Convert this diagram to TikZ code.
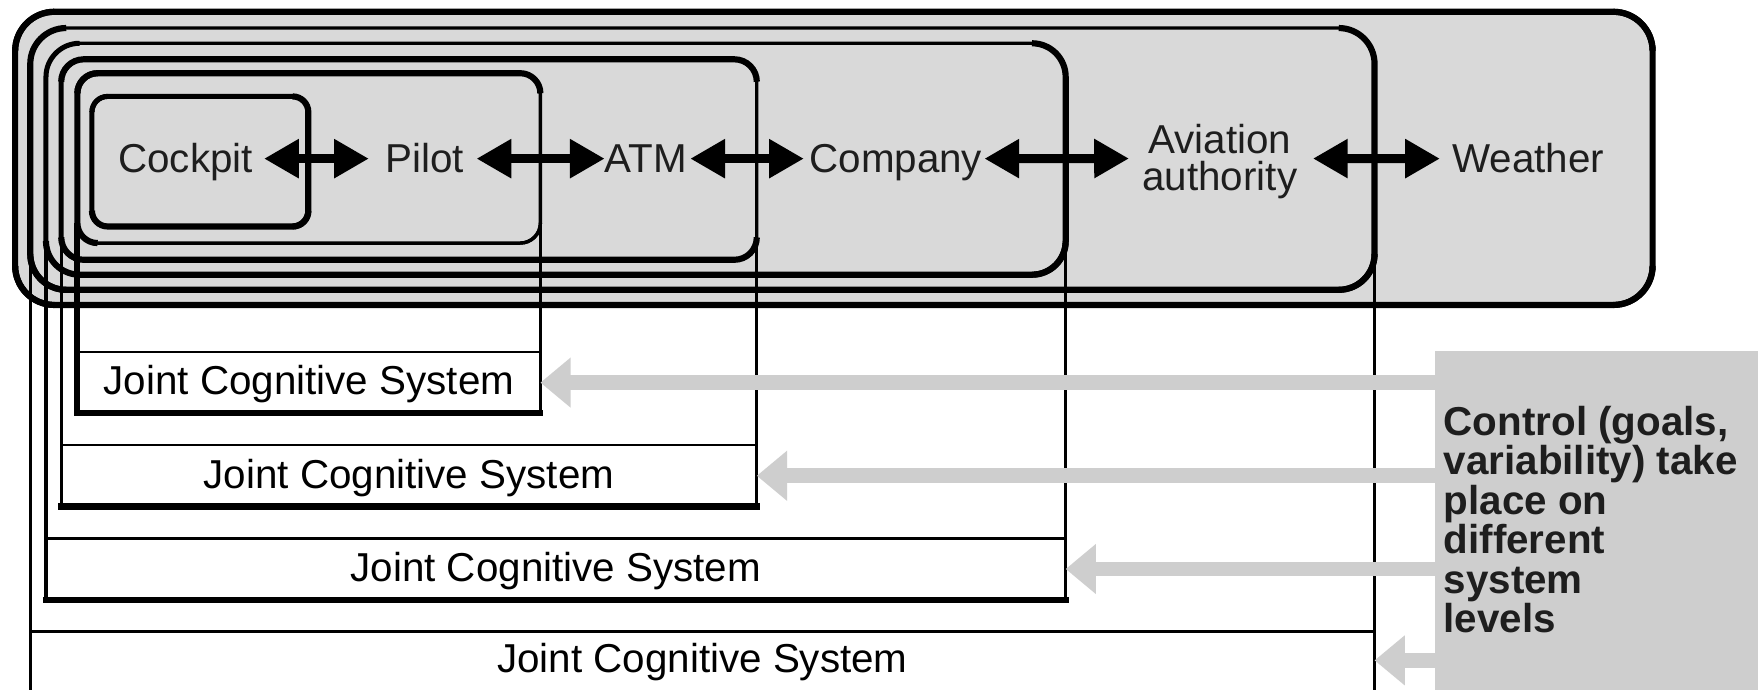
\documentclass[tikz,border=0pt]{standalone}
\usepackage{fontspec}
\setmainfont{Liberation Sans}
\usetikzlibrary{arrows.meta}

\definecolor{levelfill}{RGB}{217,217,217}
\definecolor{ctrlgray}{RGB}{206,206,206}
\definecolor{ink}{RGB}{30,30,30}

\tikzset{
  agent/.style={font=\fontsize{36}{33}\selectfont, text=ink, inner sep=0pt, outer sep=0pt},
  biarrow/.style={line width=8pt,
    {Triangle[length=31pt,width=33pt]}-{Triangle[length=31pt,width=33pt]}},
  jcsrow/.style={inner sep=0pt, outer sep=0pt, text=black,
    font=\fontsize{36}{38}\selectfont, text height=26pt, text depth=4pt},
  jcsside/.style={line width=2.8pt},
  jcsrule/.style={line width=2.4pt},
  jcsfloor/.style={line width=5.5pt, line cap=rect},
  notebox/.style={fill=ctrlgray, inner sep=0pt, outer sep=0pt, anchor=north west},
  notetext/.style={font=\bfseries\fontsize{36}{35.3}\selectfont, text=ink,
    align=left, inner sep=0pt, anchor=north west},
  ctrlarrow/.style={draw=ctrlgray, line width=13pt, -{Triangle[length=27pt,width=43pt]}},
}

% rounded level frame: corners (x1,y1) (x2,y2), radius, then widths of top, right, bottom, left side;
% each side is stroked together with its two corners
\newcommand{\levelframe}[9]{%
  \fill[levelfill, rounded corners=#5pt] (#1,#2) rectangle (#3,#4);
  \draw[line width=#6pt, rounded corners=#5pt] (#1,{#2+#5}) -- (#1,#2) -- (#3,#2) -- (#3,{#2+#5});
  \draw[line width=#7pt, rounded corners=#5pt] ({#3-#5},#2) -- (#3,#2) -- (#3,#4) -- ({#3-#5},#4);
  \draw[line width=#8pt, rounded corners=#5pt] (#1,{#4-#5}) -- (#1,#4) -- (#3,#4) -- (#3,{#4-#5});
  \draw[line width=#9pt, rounded corners=#5pt] ({#1+#5},#2) -- (#1,#2) -- (#1,#4) -- ({#1+#5},#4);
}

\begin{document}
\begin{tikzpicture}[x=1pt,y=-1pt]
\useasboundingbox (0,0) rectangle (1568,615);
\fill[white] (0,0) rectangle (1568,615);

% nested system levels, outermost first
\levelframe{13.5}{10.5}{1474}{272}{35}{5.5}{5.5}{5.5}{5.5}
\levelframe{27}{25}{1226}{258.5}{32}{3}{5.5}{5.5}{5.5}
\levelframe{41}{38.6}{950.5}{245}{30}{3}{5.5}{5.5}{4.5}
\levelframe{54.6}{52.9}{675}{231.7}{20}{5.5}{3}{5.5}{4.5}
\levelframe{69}{65.3}{482}{216.8}{18}{5.5}{3}{3}{5.5}
\levelframe{82}{86}{275}{202}{14}{4.5}{5.5}{5.5}{4.5}

% stems of the joint cognitive systems hanging below each level
% level 1 (cockpit + pilot)
\draw[jcsside, line width=5.5pt] (69,198.8) -- (69,368.5);
\draw[jcsside] (482,198.8) -- (482,368.5);
\draw[jcsrule] (69,314) -- (482,314);
\draw[jcsfloor] (69,368.5) -- (482,368.5);
% level 2 (+ ATM)
\draw[jcsside] (54.6,211.7) -- (54.6,451.7);
\draw[jcsside] (675,211.7) -- (675,451.7);
\draw[jcsrule] (54.6,397) -- (675,397);
\draw[jcsfloor] (54.6,451.7) -- (675,451.7);
% level 3 (+ company)
\draw[jcsside] (41,215) -- (41,535);
\draw[jcsside] (950.5,215) -- (950.5,535);
\draw[jcsrule] (41,480) -- (950.5,480);
\draw[jcsfloor] (41,535) -- (950.5,535);
% level 4 (+ aviation authority)
\draw[jcsside] (27,226.5) -- (27,620);
\draw[jcsside] (1226,226.5) -- (1226,620);
\draw[jcsrule] (27,563) -- (1226,563);

% row labels
\node[jcsrow, minimum width=413pt, minimum height=54.5pt] (jcs1) at (275.5,341.25) {Joint Cognitive System};
\node[jcsrow, minimum width=620.4pt, minimum height=54.7pt] (jcs2) at (364.8,424.35) {Joint Cognitive System};
\node[jcsrow, minimum width=909.5pt, minimum height=55pt] (jcs3) at (495.75,507.5) {Joint Cognitive System};
\node[jcsrow, minimum width=1199pt, minimum height=52pt] (jcs4) at (626.5,589) {Joint Cognitive System};

% actors
\node[agent, anchor=base] (cockpit) at (165.5,153.5) {Cockpit};
\node[agent, anchor=base] (pilot) at (379,153.5) {Pilot};
\node[agent, anchor=base] (atm) at (576,153.5) {ATM};
\node[agent, anchor=base] (company) at (799,153.5) {Company};
\node[agent, align=center] (authority) at (1088,144.4) {Aviation\\authority};
\node[agent, anchor=base] (weather) at (1363,153.5) {Weather};

% couplings between actors
\draw[biarrow] ([xshift=10pt,yshift=12pt]cockpit.base east) -- ([xshift=-15pt,yshift=12pt]pilot.base west);
\draw[biarrow] ([xshift=11pt,yshift=12pt]pilot.base east) -- ([xshift=0pt,yshift=12pt]atm.base west);
\draw[biarrow] ([xshift=3pt,yshift=12pt]atm.base east) -- ([xshift=-5pt,yshift=12pt]company.base west);
\draw[biarrow] ([xshift=2pt,yshift=12pt]company.base east) -- ([xshift=-12pt,yshift=3pt]authority.west);
\draw[biarrow] ([xshift=14pt,yshift=3pt]authority.east) -- ([xshift=-11pt,yshift=12pt]weather.base west);

% control note and its pointers
\node[notebox, minimum width=292pt, minimum height=306pt] (note) at (1280,313) {};
\node[notetext] (notetxt) at (1287.5,361.7) {Control (goals,\\variability) take\\place on\\different\\system\\levels};

\draw[ctrlarrow] (note.west |- jcs1.east) -- (jcs1.east);
\draw[ctrlarrow] (note.west |- jcs2.east) -- (jcs2.east);
\draw[ctrlarrow] (note.west |- jcs3.east) -- (jcs3.east);
\draw[ctrlarrow] (note.west |- jcs4.east) -- (jcs4.east);
\end{tikzpicture}
\end{document}
